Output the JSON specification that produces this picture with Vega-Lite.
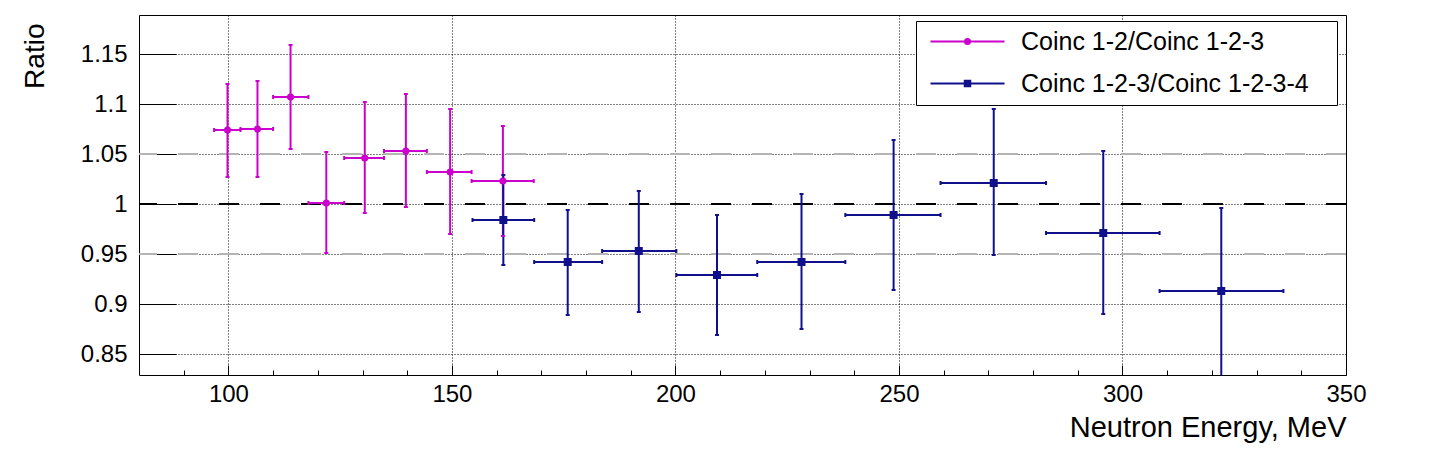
{
  "$schema": "https://vega.github.io/schema/vega-lite/v6.json",
  "width": 1207,
  "height": 360,
  "autosize": {"type": "none"},
  "padding": {"left": 139, "top": 15, "right": 100, "bottom": 83},
  "background": "white",
  "config": {"view": {"stroke": "black", "strokeWidth": 1}, "font": "Liberation Sans"},
  "data": {
    "values": [
      {"series": "Coinc 1-2/Coinc 1-2-3", "x": 99.8, "y": 1.074, "ylo": 1.027, "yhi": 1.120, "xlo": 96.8, "xhi": 102.7},
      {"series": "Coinc 1-2/Coinc 1-2-3", "x": 106.5, "y": 1.075, "ylo": 1.027, "yhi": 1.123, "xlo": 102.7, "xhi": 110.0},
      {"series": "Coinc 1-2/Coinc 1-2-3", "x": 113.9, "y": 1.107, "ylo": 1.055, "yhi": 1.159, "xlo": 110.0, "xhi": 117.9},
      {"series": "Coinc 1-2/Coinc 1-2-3", "x": 121.9, "y": 1.001, "ylo": 0.951, "yhi": 1.052, "xlo": 117.9, "xhi": 125.9},
      {"series": "Coinc 1-2/Coinc 1-2-3", "x": 130.5, "y": 1.046, "ylo": 0.991, "yhi": 1.102, "xlo": 125.9, "xhi": 134.8},
      {"series": "Coinc 1-2/Coinc 1-2-3", "x": 139.7, "y": 1.053, "ylo": 0.997, "yhi": 1.110, "xlo": 134.8, "xhi": 144.4},
      {"series": "Coinc 1-2/Coinc 1-2-3", "x": 149.6, "y": 1.032, "ylo": 0.970, "yhi": 1.095, "xlo": 144.4, "xhi": 154.4},
      {"series": "Coinc 1-2/Coinc 1-2-3", "x": 161.4, "y": 1.023, "ylo": 0.968, "yhi": 1.078, "xlo": 154.4, "xhi": 168.3},
      {"series": "Coinc 1-2-3/Coinc 1-2-3-4", "x": 161.5, "y": 0.984, "ylo": 0.939, "yhi": 1.029, "xlo": 154.6, "xhi": 168.4},
      {"series": "Coinc 1-2-3/Coinc 1-2-3-4", "x": 175.9, "y": 0.942, "ylo": 0.889, "yhi": 0.994, "xlo": 168.4, "xhi": 183.6},
      {"series": "Coinc 1-2-3/Coinc 1-2-3-4", "x": 191.8, "y": 0.953, "ylo": 0.892, "yhi": 1.013, "xlo": 183.6, "xhi": 200.2},
      {"series": "Coinc 1-2-3/Coinc 1-2-3-4", "x": 209.3, "y": 0.929, "ylo": 0.869, "yhi": 0.989, "xlo": 200.2, "xhi": 218.3},
      {"series": "Coinc 1-2-3/Coinc 1-2-3-4", "x": 228.2, "y": 0.942, "ylo": 0.875, "yhi": 1.010, "xlo": 218.3, "xhi": 238.0},
      {"series": "Coinc 1-2-3/Coinc 1-2-3-4", "x": 248.8, "y": 0.989, "ylo": 0.914, "yhi": 1.064, "xlo": 238.0, "xhi": 259.3},
      {"series": "Coinc 1-2-3/Coinc 1-2-3-4", "x": 271.2, "y": 1.021, "ylo": 0.949, "yhi": 1.095, "xlo": 259.3, "xhi": 282.9},
      {"series": "Coinc 1-2-3/Coinc 1-2-3-4", "x": 295.7, "y": 0.971, "ylo": 0.890, "yhi": 1.053, "xlo": 282.9, "xhi": 308.3},
      {"series": "Coinc 1-2-3/Coinc 1-2-3-4", "x": 322.1, "y": 0.913, "ylo": 0.820, "yhi": 0.996, "xlo": 308.3, "xhi": 336.0}
    ]
  },
  "layer": [
    {
      "transform": [{"filter": "datum.x < 0"}],
      "mark": {"type": "point", "filled": true, "opacity": 1},
      "encoding": {
        "x": {
          "field": "x", "type": "quantitative",
          "scale": {"domain": [80, 350], "nice": false, "zero": false},
          "axis": {
            "title": "Neutron Energy, MeV",
            "titleFont": "Liberation Sans", "titleFontSize": 29, "titleFontWeight": "normal", "titleColor": "black",
            "titleAnchor": "end", "titleAlign": "right", "titleBaseline": "alphabetic", "titleX": 1207, "titleY": 61,
            "values": [90, 100, 110, 120, 130, 140, 150, 160, 170, 180, 190, 200, 210, 220, 230, 240, 250, 260, 270, 280, 290, 300, 310, 320, 330, 340, 350],
            "labelExpr": "datum.value % 50 == 0 ? toString(datum.value) : ''",
            "labelFont": "Liberation Sans", "labelFontSize": 24, "labelColor": "black",
            "labelBaseline": "alphabetic", "labelPadding": 26, "labelFlush": false, "labelOverlap": false, "labelBound": false,
            "domain": false,
            "ticks": true, "tickSize": 0, "tickColor": "black", "tickWidth": 1,
            "grid": true, "gridColor": "black", "gridDash": [1, 2], "gridWidth": 1,
            "encoding": {
              "ticks": {"y2": {"condition": {"test": "datum.value % 50 == 0", "value": -10}, "value": -5}},
              "grid": {"strokeOpacity": {"condition": {"test": "datum.value % 50 == 0 && datum.value < 350", "value": 1}, "value": 0}}
            }
          }
        },
        "y": {
          "field": "y", "type": "quantitative",
          "scale": {"domain": [0.829, 1.189], "nice": false, "zero": false},
          "axis": {
            "title": "Ratio",
            "titleFont": "Liberation Sans", "titleFontSize": 28, "titleFontWeight": "normal", "titleColor": "black",
            "titleAngle": 270, "titleAnchor": "end", "titleAlign": "right", "titleBaseline": "alphabetic", "titleX": -96, "titleY": 8,
            "values": [0.85, 0.875, 0.9, 0.925, 0.95, 0.975, 1.0, 1.025, 1.05, 1.075, 1.1, 1.125, 1.15, 1.175],
            "labelExpr": "abs(round(datum.value * 1000)) % 50 == 0 ? toString(round(datum.value * 1000) / 1000) : ''",
            "labelFont": "Liberation Sans", "labelFontSize": 24, "labelColor": "black",
            "labelAlign": "right", "labelBaseline": "middle", "labelPadding": 12, "labelFlush": false, "labelOverlap": false, "labelBound": false,
            "domain": false,
            "ticks": true, "tickSize": 0, "tickColor": "black", "tickWidth": 1,
            "grid": true, "gridColor": "black", "gridDash": [1, 2], "gridWidth": 1,
            "encoding": {
              "ticks": {"x2": {"condition": {"test": "abs(round(datum.value * 1000)) % 50 == 0", "value": 37}, "value": 18}},
              "grid": {"strokeOpacity": {"condition": {"test": "abs(round(datum.value * 1000)) % 50 == 0", "value": 1}, "value": 0}}
            }
          }
        },
        "color": {
          "field": "series", "type": "nominal",
          "scale": {"domain": ["Coinc 1-2/Coinc 1-2-3", "Coinc 1-2-3/Coinc 1-2-3-4"], "range": ["#cc00cc", "#10108c"]},
          "legend": {
            "orient": "none", "legendX": 777, "legendY": 6, "title": null,
            "strokeColor": "black", "fillColor": "white", "padding": 8,
            "labelFont": "Liberation Sans", "labelFontSize": 25, "labelColor": "black",
            "labelOffset": 72, "rowPadding": 16, "symbolSize": 100, "symbolStrokeWidth": 2, "labelLimit": 600
          }
        },
        "shape": {
          "field": "series", "type": "nominal",
          "scale": {
            "domain": ["Coinc 1-2/Coinc 1-2-3", "Coinc 1-2-3/Coinc 1-2-3-4"],
            "range": [
              "M-1.2,0H13.6M6.7,0A0.5,0.5 0 1,1 5.7,0A0.5,0.5 0 1,1 6.7,0ZM77.6,0",
              "M-1.2,0H13.6M5.65,-0.55H6.75V0.55H5.65ZM77.6,0"
            ]
          }
        }
      }
    },
    {
      "mark": {"type": "rule", "color": "#b4b4b4", "strokeWidth": 2, "strokeDash": [20, 21]},
      "encoding": {"y": {"datum": 1.05, "type": "quantitative"}}
    },
    {
      "mark": {"type": "rule", "color": "#b4b4b4", "strokeWidth": 2, "strokeDash": [20, 21]},
      "encoding": {"y": {"datum": 0.95, "type": "quantitative"}}
    },
    {
      "mark": {"type": "rule", "color": "black", "strokeWidth": 2, "strokeDash": [20, 21]},
      "encoding": {"y": {"datum": 1.0, "type": "quantitative"}}
    },
    {
      "mark": {"type": "rule", "strokeWidth": 2, "clip": true},
      "encoding": {
        "x": {"field": "x", "type": "quantitative"},
        "y": {"field": "ylo", "type": "quantitative"},
        "y2": {"field": "yhi"},
        "color": {"field": "series", "type": "nominal", "legend": null,
          "scale": {"domain": ["Coinc 1-2/Coinc 1-2-3", "Coinc 1-2-3/Coinc 1-2-3-4"], "range": ["#cc00cc", "#10108c"]}}
      }
    },
    {
      "mark": {"type": "rule", "strokeWidth": 2, "clip": true},
      "encoding": {
        "x": {"field": "xlo", "type": "quantitative"},
        "x2": {"field": "xhi"},
        "y": {"field": "y", "type": "quantitative"},
        "color": {"field": "series", "type": "nominal", "legend": null,
          "scale": {"domain": ["Coinc 1-2/Coinc 1-2-3", "Coinc 1-2-3/Coinc 1-2-3-4"], "range": ["#cc00cc", "#10108c"]}}
      }
    },
    {
      "transform": [{"fold": ["ylo", "yhi"], "as": ["cap", "capy"]}],
      "mark": {"type": "point", "shape": "M-1,0H1", "size": 16, "filled": false, "strokeWidth": 2, "opacity": 1, "clip": true},
      "encoding": {
        "x": {"field": "x", "type": "quantitative"},
        "y": {"field": "capy", "type": "quantitative"},
        "color": {"field": "series", "type": "nominal", "legend": null,
          "scale": {"domain": ["Coinc 1-2/Coinc 1-2-3", "Coinc 1-2-3/Coinc 1-2-3-4"], "range": ["#cc00cc", "#10108c"]}}
      }
    },
    {
      "transform": [{"fold": ["xlo", "xhi"], "as": ["cap", "capx"]}],
      "mark": {"type": "point", "shape": "M0,-1V1", "size": 16, "filled": false, "strokeWidth": 2, "opacity": 1, "clip": true},
      "encoding": {
        "x": {"field": "capx", "type": "quantitative"},
        "y": {"field": "y", "type": "quantitative"},
        "color": {"field": "series", "type": "nominal", "legend": null,
          "scale": {"domain": ["Coinc 1-2/Coinc 1-2-3", "Coinc 1-2-3/Coinc 1-2-3-4"], "range": ["#cc00cc", "#10108c"]}}
      }
    },
    {
      "transform": [{"filter": "datum.series == 'Coinc 1-2/Coinc 1-2-3'"}],
      "mark": {"type": "point", "shape": "circle", "size": 50, "filled": true, "opacity": 1},
      "encoding": {
        "x": {"field": "x", "type": "quantitative"},
        "y": {"field": "y", "type": "quantitative"},
        "color": {"field": "series", "type": "nominal", "legend": null,
          "scale": {"domain": ["Coinc 1-2/Coinc 1-2-3", "Coinc 1-2-3/Coinc 1-2-3-4"], "range": ["#cc00cc", "#10108c"]}}
      }
    },
    {
      "transform": [{"filter": "datum.series == 'Coinc 1-2-3/Coinc 1-2-3-4'"}],
      "mark": {"type": "point", "shape": "square", "size": 64, "filled": true, "opacity": 1},
      "encoding": {
        "x": {"field": "x", "type": "quantitative"},
        "y": {"field": "y", "type": "quantitative"},
        "color": {"field": "series", "type": "nominal", "legend": null,
          "scale": {"domain": ["Coinc 1-2/Coinc 1-2-3", "Coinc 1-2-3/Coinc 1-2-3-4"], "range": ["#cc00cc", "#10108c"]}}
      }
    }
  ]
}
